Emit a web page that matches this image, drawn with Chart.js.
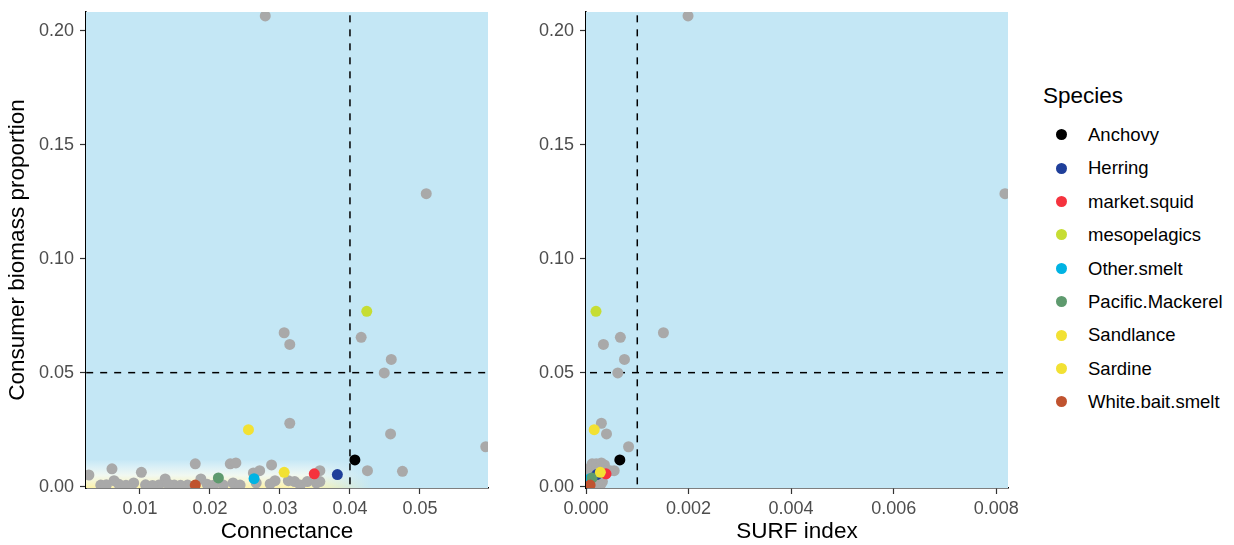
<!DOCTYPE html>
<html>
<head>
<meta charset="utf-8">
<script src="https://cdn.jsdelivr.net/npm/chart.js@4.4.1/dist/chart.umd.min.js"></script>
<style>
  html, body { margin: 0; padding: 0; background: #ffffff; }
  body { width: 1234px; height: 545px; position: relative; overflow: hidden; font-family: "Liberation Sans", Arial, sans-serif; }
  #c1 { position: absolute; left: 0; top: 0; }
  #c2 { position: absolute; left: 500px; top: 0; }
  #legend { position: absolute; left: 1043px; top: 80px; }
  #legend .title { font-size: 22.5px; color: #000; height: 32px; line-height: 32px; margin-bottom: 6px; }
  #legend .item { position: relative; height: 33.4px; line-height: 33.4px; font-size: 18.5px; color: #000; padding-left: 45px; white-space: nowrap; }
  #legend .dot { position: absolute; left: 12.5px; top: 11.2px; width: 11px; height: 11px; border-radius: 50%; }
</style>
</head>
<body>
<canvas id="c1" width="500" height="545"></canvas>
<canvas id="c2" width="520" height="545"></canvas>
<div id="legend"></div>
<script>
// ---------------- data ----------------
const speciesNames = ["Anchovy", "Herring", "market.squid", "mesopelagics", "Other.smelt",
                      "Pacific.Mackerel", "Sandlance", "Sardine", "White.bait.smelt"];
const speciesConnectance = [0.0407, 0.0382, 0.0349, 0.0424, 0.0263, 0.0212, 0.0255, 0.0306, 0.0179];
const speciesSurf        = [0.00066, 0.00021, 0.00039, 0.000195, 0.00008, 0.00012, 0.00016, 0.00028, 0.00008];
const speciesBiomass     = [0.0117, 0.0053, 0.0056, 0.0769, 0.0035, 0.0038, 0.0250, 0.0063, 0.0007];

const otherConnectance = [0.0279, 0.0509, 0.0306, 0.0416, 0.0314, 0.0459, 0.0449, 0.0314, 0.0458, 0.0594,
  0.0027, 0.0060, 0.0063, 0.0044, 0.0102, 0.0091, 0.0136, 0.0127, 0.0149, 0.0179,
  0.0187, 0.0168, 0.0229, 0.0237, 0.0288, 0.0271, 0.0262, 0.0233, 0.0357, 0.0357,
  0.0425, 0.0475, 0.0052, 0.0070, 0.0080, 0.0108, 0.0118, 0.0140, 0.0158, 0.0196,
  0.0205, 0.0293, 0.0286, 0.0312, 0.0321, 0.0329, 0.0339, 0.0352, 0.0266, 0.0243, 0.0219];
const otherSurf = [0.00199, 0.00817, 0.00151, 0.00067, 0.00034, 0.00075, 0.00062, 0.00030, 0.00040, 0.00083,
  0.00002, 0.00005, 0.00003, 0.00001, 0.00008, 0.00004, 0.00010, 0.00006, 0.00012, 0.00012,
  0.00014, 0.00009, 0.00020, 0.00030, 0.00036, 0.00055, 0.00018, 0.00015, 0.00047, 0.00022,
  0.00035, 0.00025, 0.00002, 0.00004, 0.00003, 0.00006, 0.00005, 0.00009, 0.00008, 0.00012,
  0.00015, 0.00025, 0.00028, 0.00028, 0.00026, 0.00028, 0.00032, 0.00030, 0.00022, 0.00018, 0.00016];
const otherBiomass = [0.2065, 0.1285, 0.0675, 0.0655, 0.0624, 0.0558, 0.0499, 0.0278, 0.0231, 0.0175,
  0.0051, 0.0078, 0.0026, 0.0007, 0.0063, 0.0016, 0.0034, 0.0007, 0.0007, 0.0100,
  0.0034, 0.0007, 0.0100, 0.0104, 0.0095, 0.0070, 0.0060, 0.0016, 0.0070, 0.0022,
  0.0070, 0.0067, 0.0008, 0.0010, 0.0006, 0.0008, 0.0005, 0.0012, 0.0006, 0.0010,
  0.0006, 0.0026, 0.0012, 0.0026, 0.0022, 0.0007, 0.0022, 0.0016, 0.0016, 0.0007, 0.0007];

const connectanceThreshold = 0.04;
const surfThreshold = 0.001;
const biomassThreshold = 0.05;

const yTicks = [0.00, 0.05, 0.10, 0.15, 0.20];
const connectanceTicks = [0.01, 0.02, 0.03, 0.04, 0.05];
const surfTicks = [0.000, 0.002, 0.004, 0.006, 0.008];

// ---------------- styles ----------------
const speciesColors = ["#000000", "#1F3F9A", "#F5333E", "#C6DD33", "#00B3E3", "#5E9A6E", "#F2E133", "#F2E133", "#C0532F"];
const otherColor = "#A9A9A9";
const panelBlue = "#C4E7F5";
const FONT = "'Liberation Sans', Arial, sans-serif";

// ---------------- legend (HTML) ----------------
const legendEl = document.getElementById('legend');
legendEl.innerHTML = '<div class="title">Species</div>' + speciesNames.map((n, i) =>
  '<div class="item"><span class="dot" style="background:' + speciesColors[i] + '"></span>' + n + '</div>').join('');

// ---------------- plugin: panel background ----------------
const bgPlugin = {
  id: 'panelBg',
  beforeDatasetsDraw(chart, args, opts) {
    const {ctx, chartArea: a, scales} = chart;
    ctx.save();
    ctx.beginPath();
    ctx.rect(a.left, a.top, a.right - a.left, a.bottom - a.top);
    ctx.clip();
    ctx.fillStyle = panelBlue;
    ctx.fillRect(a.left, a.top, a.right - a.left, a.bottom - a.top);
    if (opts && opts.band) {
      const y = scales.y, x = scales.x;
      const yTop = y.getPixelForValue(0.012), yMid = y.getPixelForValue(0.005), yBot = a.bottom;
      const g = ctx.createLinearGradient(0, yTop, 0, yBot);
      g.addColorStop(0, 'rgba(255,255,255,0)');
      g.addColorStop((yMid - yTop) / (yBot - yTop), 'rgba(252,252,240,0.8)');
      g.addColorStop(1, 'rgba(253,243,170,1)');
      ctx.fillStyle = g;
      const xf = x.getPixelForValue(opts.band[1]), xe = x.getPixelForValue(opts.band[2]);
      for (let px = a.left; px < xe; px += 2) {
        ctx.globalAlpha = px < xf ? 1 : Math.max(0, 1 - (px - xf) / (xe - xf));
        ctx.fillRect(px, yTop, 2, yBot - yTop);
      }
      ctx.globalAlpha = 1;
    }
    ctx.restore();
  }
};

function pts(xs, ys) { return xs.map((v, i) => ({x: v, y: ys[i]})); }

function buildDatasets(xSpecies, xOther, xThr, xMin, xMax) {
  const ds = [];
  ds.push({
    type: 'line', label: 'vline', data: [{x: xThr, y: -1}, {x: xThr, y: 1}],
    borderColor: '#000', borderWidth: 1.5, borderDash: [7, 7], pointRadius: 0, order: 300, clip: 0
  });
  ds.push({
    type: 'line', label: 'hline', data: [{x: xMin - 1, y: biomassThreshold}, {x: xMax + 1, y: biomassThreshold}],
    borderColor: '#000', borderWidth: 1.5, borderDash: [7, 7], pointRadius: 0, order: 300, clip: 0
  });
  ds.push({
    label: 'Other', data: pts(xOther, otherBiomass),
    backgroundColor: otherColor, borderWidth: 0, pointRadius: 5.5, order: 200, clip: 0
  });
  speciesNames.forEach((n, i) => {
    ds.push({
      label: n, data: [{x: xSpecies[i], y: speciesBiomass[i]}],
      backgroundColor: speciesColors[i], borderWidth: 0, pointRadius: 5.5, order: 100 - i, clip: 0
    });
  });
  return ds;
}

function makeOptions(cfg) {
  return {
    responsive: false, animation: false,
    layout: {padding: {top: 12, right: cfg.padRight, left: 0, bottom: 0}},
    plugins: {legend: {display: false}, tooltip: {enabled: false}, panelBg: {band: cfg.band || null}},
    scales: {
      x: {
        type: 'linear', min: cfg.xMin, max: cfg.xMax,
        afterBuildTicks: s => { s.ticks = cfg.xTicks.map(v => ({value: v})); },
        afterFit: s => { s.height = 57; s.paddingLeft = 0; s.paddingRight = 0; },
        grid: {display: true, drawOnChartArea: false, drawTicks: true, tickLength: 6, tickColor: '#333333', tickWidth: 1.2},
        border: {display: true, color: '#000000', width: 1.6},
        ticks: {color: '#4D4D4D', font: {family: FONT, size: 18}, padding: 4, maxRotation: 0, autoSkip: false,
                callback: v => Number(v).toFixed(cfg.xDigits)},
        title: {display: true, text: cfg.xTitle, color: '#000', font: {family: FONT, size: 22.5}, padding: {top: 0, bottom: 0}}
      },
      y: {
        type: 'linear', min: -0.0006, max: 0.2082,
        afterBuildTicks: s => { s.ticks = yTicks.map(v => ({value: v})); },
        afterFit: s => { s.width = 86; s.paddingTop = 0; s.paddingBottom = 0; },
        grid: {display: true, drawOnChartArea: false, drawTicks: true, tickLength: 6, tickColor: '#333333', tickWidth: 1.2},
        border: {display: true, color: '#000000', width: 1.6},
        ticks: {color: '#4D4D4D', font: {family: FONT, size: 18}, padding: 6, autoSkip: false,
                callback: v => Number(v).toFixed(2)},
        title: {display: cfg.yTitle !== '', text: cfg.yTitle, color: '#000', font: {family: FONT, size: 22.5}, padding: {top: 4.5, bottom: 0}}
      }
    }
  };
}

const leftMin = 0.00229, leftMax = 0.05972;
const rightMin = 0, rightMax = 0.00823;

new Chart(document.getElementById('c1'), {
  type: 'scatter',
  data: {datasets: buildDatasets(speciesConnectance, otherConnectance, connectanceThreshold, leftMin, leftMax)},
  options: makeOptions({xMin: leftMin, xMax: leftMax, xTicks: connectanceTicks, xDigits: 2, xTitle: 'Connectance',
                        yTitle: 'Consumer biomass proportion', padRight: 12, band: [0.003, 0.034, 0.043]}),
  plugins: [bgPlugin]
});

new Chart(document.getElementById('c2'), {
  type: 'scatter',
  data: {datasets: buildDatasets(speciesSurf, otherSurf, surfThreshold, rightMin, rightMax)},
  options: makeOptions({xMin: rightMin, xMax: rightMax, xTicks: surfTicks, xDigits: 3, xTitle: 'SURF index',
                        yTitle: '', padRight: 12}),
  plugins: [bgPlugin]
});
</script>
</body>
</html>
